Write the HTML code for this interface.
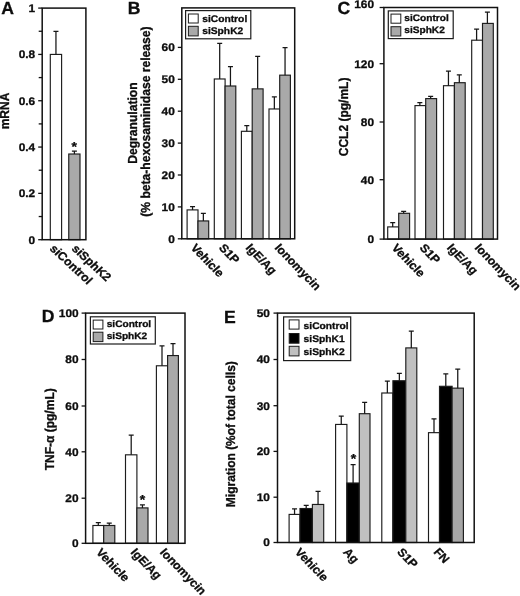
<!DOCTYPE html>
<html lang="en"><head><meta charset="utf-8"><title>Figure</title>
<style>html,body{margin:0;padding:0;background:#fff}svg{display:block;will-change:transform}text{text-rendering:geometricPrecision;font-family:"Liberation Sans",Arial,sans-serif;font-weight:bold;fill:#0d0d0d;stroke:#0d0d0d;stroke-width:.3px}</style>
</head><body>
<svg width="520" height="596" viewBox="0 0 520 596">
<rect width="520" height="596" fill="#fff"/>
<rect x="50.3" y="54.42" width="11.3" height="185.28" fill="#fff" stroke="#1c1c1c" stroke-width="1.15"/>
<path d="M55.95 54.42V31.26M53.45 31.26H58.45" fill="none" stroke="#161616" stroke-width="1.25"/>
<rect x="68.75" y="154.01" width="11.25" height="85.69" fill="#a9a9a9" stroke="#1c1c1c" stroke-width="1.15"/>
<path d="M74.4 154.01V151.23M71.9 151.23H76.9" fill="none" stroke="#161616" stroke-width="1.25"/>
<rect x="42.2" y="8.1" width="43.7" height="231.6" fill="none" stroke="#111" stroke-width="1.5"/>
<line x1="38.2" y1="239.7" x2="42.2" y2="239.7" stroke="#111" stroke-width="1.3"/>
<text transform="translate(35.2 243.6) scale(1.08 1)" font-size="11" text-anchor="end">0</text>
<line x1="38.7" y1="216.54" x2="42.2" y2="216.54" stroke="#111" stroke-width="1.3"/>
<line x1="38.2" y1="193.38" x2="42.2" y2="193.38" stroke="#111" stroke-width="1.3"/>
<text transform="translate(35.2 197.28) scale(1.08 1)" font-size="11" text-anchor="end">0.2</text>
<line x1="38.7" y1="170.22" x2="42.2" y2="170.22" stroke="#111" stroke-width="1.3"/>
<line x1="38.2" y1="147.06" x2="42.2" y2="147.06" stroke="#111" stroke-width="1.3"/>
<text transform="translate(35.2 150.96) scale(1.08 1)" font-size="11" text-anchor="end">0.4</text>
<line x1="38.7" y1="123.9" x2="42.2" y2="123.9" stroke="#111" stroke-width="1.3"/>
<line x1="38.2" y1="100.74" x2="42.2" y2="100.74" stroke="#111" stroke-width="1.3"/>
<text transform="translate(35.2 104.64) scale(1.08 1)" font-size="11" text-anchor="end">0.6</text>
<line x1="38.7" y1="77.58" x2="42.2" y2="77.58" stroke="#111" stroke-width="1.3"/>
<line x1="38.2" y1="54.42" x2="42.2" y2="54.42" stroke="#111" stroke-width="1.3"/>
<text transform="translate(35.2 58.32) scale(1.08 1)" font-size="11" text-anchor="end">0.8</text>
<line x1="38.7" y1="31.26" x2="42.2" y2="31.26" stroke="#111" stroke-width="1.3"/>
<line x1="38.2" y1="8.1" x2="42.2" y2="8.1" stroke="#111" stroke-width="1.3"/>
<text transform="translate(35.2 12) scale(1.08 1)" font-size="11" text-anchor="end">1</text>
<text transform="translate(74.2 150.6) scale(1.08 1)" font-size="13" text-anchor="middle">*</text>
<text transform="translate(49 249.3) scale(1.08 1) rotate(45)" font-size="11.5">siControl</text>
<text transform="translate(71 249.3) scale(1.08 1) rotate(45)" font-size="11.5">siSphK2</text>
<text transform="translate(9.4 111) scale(1.08 1) rotate(-90)" font-size="12" text-anchor="middle">mRNA</text>
<text transform="translate(1.3 14) scale(1.0 1)" font-size="17.6">A</text>
<rect x="187.1" y="209.9" width="10.9" height="28.9" fill="#fff" stroke="#1c1c1c" stroke-width="1.15"/>
<path d="M192.55 209.9V206.58M190.05 206.58H195.05" fill="none" stroke="#161616" stroke-width="1.25"/>
<rect x="198" y="220.94" width="10.7" height="17.86" fill="#a9a9a9" stroke="#1c1c1c" stroke-width="1.15"/>
<path d="M203.35 220.94V213.28M200.85 213.28H205.85" fill="none" stroke="#161616" stroke-width="1.25"/>
<rect x="214.3" y="78.98" width="10.8" height="159.82" fill="#fff" stroke="#1c1c1c" stroke-width="1.15"/>
<path d="M219.7 78.98V43.25M217.2 43.25H222.2" fill="none" stroke="#161616" stroke-width="1.25"/>
<rect x="225.1" y="86" width="10.7" height="152.8" fill="#a9a9a9" stroke="#1c1c1c" stroke-width="1.15"/>
<path d="M230.45 86V66.54M227.95 66.54H232.95" fill="none" stroke="#161616" stroke-width="1.25"/>
<rect x="241.4" y="131.3" width="10.8" height="107.5" fill="#fff" stroke="#1c1c1c" stroke-width="1.15"/>
<path d="M246.8 131.3V125.56M244.3 125.56H249.3" fill="none" stroke="#161616" stroke-width="1.25"/>
<rect x="252.2" y="88.87" width="10.9" height="149.93" fill="#a9a9a9" stroke="#1c1c1c" stroke-width="1.15"/>
<path d="M257.65 88.87V56.33M255.15 56.33H260.15" fill="none" stroke="#161616" stroke-width="1.25"/>
<rect x="269" y="108.97" width="10.7" height="129.83" fill="#fff" stroke="#1c1c1c" stroke-width="1.15"/>
<path d="M274.35 108.97V96.85M271.85 96.85H276.85" fill="none" stroke="#161616" stroke-width="1.25"/>
<rect x="279.7" y="75.15" width="10.7" height="163.65" fill="#a9a9a9" stroke="#1c1c1c" stroke-width="1.15"/>
<path d="M285.05 75.15V47.72M282.55 47.72H287.55" fill="none" stroke="#161616" stroke-width="1.25"/>
<rect x="181.8" y="7.9" width="112.9" height="230.9" fill="none" stroke="#111" stroke-width="1.5"/>
<line x1="177.8" y1="238.8" x2="181.8" y2="238.8" stroke="#111" stroke-width="1.3"/>
<text transform="translate(174.8 242.7) scale(1.08 1)" font-size="11" text-anchor="end">0</text>
<line x1="177.8" y1="206.9" x2="181.8" y2="206.9" stroke="#111" stroke-width="1.3"/>
<text transform="translate(174.8 210.8) scale(1.08 1)" font-size="11" text-anchor="end">10</text>
<line x1="177.8" y1="175" x2="181.8" y2="175" stroke="#111" stroke-width="1.3"/>
<text transform="translate(174.8 178.9) scale(1.08 1)" font-size="11" text-anchor="end">20</text>
<line x1="177.8" y1="143.1" x2="181.8" y2="143.1" stroke="#111" stroke-width="1.3"/>
<text transform="translate(174.8 147) scale(1.08 1)" font-size="11" text-anchor="end">30</text>
<line x1="177.8" y1="111.2" x2="181.8" y2="111.2" stroke="#111" stroke-width="1.3"/>
<text transform="translate(174.8 115.1) scale(1.08 1)" font-size="11" text-anchor="end">40</text>
<line x1="177.8" y1="79.3" x2="181.8" y2="79.3" stroke="#111" stroke-width="1.3"/>
<text transform="translate(174.8 83.2) scale(1.08 1)" font-size="11" text-anchor="end">50</text>
<line x1="177.8" y1="47.4" x2="181.8" y2="47.4" stroke="#111" stroke-width="1.3"/>
<text transform="translate(174.8 51.3) scale(1.08 1)" font-size="11" text-anchor="end">60</text>
<rect x="185.6" y="10.6" width="65.2" height="28.2" fill="#fff" stroke="#1c1c1c" stroke-width="1.2"/>
<rect x="188.4" y="14" width="9.8" height="9" fill="#fff" stroke="#1c1c1c" stroke-width="1"/>
<text transform="translate(202.2 21.7) scale(1.08 1)" font-size="9.5">siControl</text>
<rect x="188.4" y="26.3" width="9.8" height="9.6" fill="#a9a9a9" stroke="#1c1c1c" stroke-width="1"/>
<text transform="translate(202.2 34) scale(1.08 1)" font-size="9.5">siSphK2</text>
<text transform="translate(190 248.2) scale(1.08 1) rotate(48)" font-size="11.5">Vehicle</text>
<text transform="translate(218.3 248.2) scale(1.08 1) rotate(48)" font-size="11.5">S1P</text>
<text transform="translate(245 248.2) scale(1.08 1) rotate(48)" font-size="11.5">IgE/Ag</text>
<text transform="translate(274 248.2) scale(1.08 1) rotate(48)" font-size="11.5">Ionomycin</text>
<text transform="translate(137.3 123.1) scale(1.08 1) rotate(-90)" font-size="12.1" text-anchor="middle">Degranulation</text>
<text transform="translate(150 121.6) scale(1.08 1) rotate(-90)" font-size="12.1" text-anchor="middle">(% beta-hexosaminidase release)</text>
<text transform="translate(127.8 14) scale(1.0 1)" font-size="17.6">B</text>
<rect x="387.7" y="226.9" width="11" height="12.2" fill="#fff" stroke="#1c1c1c" stroke-width="1.15"/>
<path d="M392.7 226.9V222.7M390.2 222.7H395.2" fill="none" stroke="#161616" stroke-width="1.25"/>
<rect x="398.7" y="213.3" width="10.9" height="25.8" fill="#a9a9a9" stroke="#1c1c1c" stroke-width="1.15"/>
<path d="M403.65 213.3V211.4M401.15 211.4H406.15" fill="none" stroke="#161616" stroke-width="1.25"/>
<rect x="415" y="105.6" width="10.7" height="133.5" fill="#fff" stroke="#1c1c1c" stroke-width="1.15"/>
<path d="M419.85 105.6V102.6M417.35 102.6H422.35" fill="none" stroke="#161616" stroke-width="1.25"/>
<rect x="425.7" y="98.6" width="10.9" height="140.5" fill="#a9a9a9" stroke="#1c1c1c" stroke-width="1.15"/>
<path d="M430.65 98.6V96.3M428.15 96.3H433.15" fill="none" stroke="#161616" stroke-width="1.25"/>
<rect x="443.5" y="85.7" width="10.9" height="153.4" fill="#fff" stroke="#1c1c1c" stroke-width="1.15"/>
<path d="M448.45 85.7V71.2M445.95 71.2H450.95" fill="none" stroke="#161616" stroke-width="1.25"/>
<rect x="454.4" y="82.7" width="10.8" height="156.4" fill="#a9a9a9" stroke="#1c1c1c" stroke-width="1.15"/>
<path d="M459.3 82.7V74.9M456.8 74.9H461.8" fill="none" stroke="#161616" stroke-width="1.25"/>
<rect x="471.7" y="40.2" width="10.8" height="198.9" fill="#fff" stroke="#1c1c1c" stroke-width="1.15"/>
<path d="M476.6 40.2V29.2M474.1 29.2H479.1" fill="none" stroke="#161616" stroke-width="1.25"/>
<rect x="482.5" y="23.4" width="10.8" height="215.7" fill="#a9a9a9" stroke="#1c1c1c" stroke-width="1.15"/>
<path d="M487.4 23.4V12.1M484.9 12.1H489.9" fill="none" stroke="#161616" stroke-width="1.25"/>
<rect x="383.9" y="7.5" width="113.6" height="231.6" fill="none" stroke="#111" stroke-width="1.5"/>
<line x1="379.6" y1="239.1" x2="383.9" y2="239.1" stroke="#111" stroke-width="1.3"/>
<text transform="translate(374 243) scale(1.08 1)" font-size="11" text-anchor="end">0</text>
<line x1="379.6" y1="179.7" x2="383.9" y2="179.7" stroke="#111" stroke-width="1.3"/>
<text transform="translate(374 183.6) scale(1.08 1)" font-size="11" text-anchor="end">40</text>
<line x1="379.6" y1="122" x2="383.9" y2="122" stroke="#111" stroke-width="1.3"/>
<text transform="translate(374 125.9) scale(1.08 1)" font-size="11" text-anchor="end">80</text>
<line x1="379.6" y1="63.7" x2="383.9" y2="63.7" stroke="#111" stroke-width="1.3"/>
<text transform="translate(374 67.6) scale(1.08 1)" font-size="11" text-anchor="end">120</text>
<line x1="379.6" y1="7.5" x2="383.9" y2="7.5" stroke="#111" stroke-width="1.3"/>
<text transform="translate(374 8.2) scale(1.08 1)" font-size="11" text-anchor="end">160</text>
<rect x="388.3" y="10.9" width="64.9" height="27.7" fill="#fff" stroke="#1c1c1c" stroke-width="1.2"/>
<rect x="391" y="14.1" width="9.8" height="9.1" fill="#fff" stroke="#1c1c1c" stroke-width="1"/>
<text transform="translate(404.3 20.9) scale(1.08 1)" font-size="9.4">siControl</text>
<rect x="391" y="26.7" width="9.8" height="9.3" fill="#a9a9a9" stroke="#1c1c1c" stroke-width="1"/>
<text transform="translate(404.3 32.9) scale(1.08 1)" font-size="9.4">siSphK2</text>
<text transform="translate(391 248.2) scale(1.08 1) rotate(48)" font-size="11.5">Vehicle</text>
<text transform="translate(419 248.2) scale(1.08 1) rotate(48)" font-size="11.5">S1P</text>
<text transform="translate(446.2 248.2) scale(1.08 1) rotate(48)" font-size="11.5">IgE/Ag</text>
<text transform="translate(474 248.2) scale(1.08 1) rotate(48)" font-size="11.5">Ionomycin</text>
<text transform="translate(348 116.9) scale(1.08 1) rotate(-90)" font-size="12" text-anchor="middle">CCL2 (pg/mL)</text>
<text transform="translate(337.6 14) scale(1.0 1)" font-size="17.6">C</text>
<rect x="92.9" y="525.49" width="10.8" height="17.81" fill="#fff" stroke="#1c1c1c" stroke-width="1.15"/>
<path d="M98.3 525.49V522.55M95.8 522.55H100.8" fill="none" stroke="#161616" stroke-width="1.25"/>
<rect x="103.7" y="525.49" width="11.1" height="17.81" fill="#a9a9a9" stroke="#1c1c1c" stroke-width="1.15"/>
<path d="M109.25 525.49V523.23M106.75 523.23H111.75" fill="none" stroke="#161616" stroke-width="1.25"/>
<rect x="125.5" y="454.82" width="11.4" height="88.48" fill="#fff" stroke="#1c1c1c" stroke-width="1.15"/>
<path d="M131.2 454.82V435.08M128.7 435.08H133.7" fill="none" stroke="#161616" stroke-width="1.25"/>
<rect x="136.9" y="507.9" width="11.1" height="35.4" fill="#a9a9a9" stroke="#1c1c1c" stroke-width="1.15"/>
<path d="M142.45 507.9V504.96M139.95 504.96H144.95" fill="none" stroke="#161616" stroke-width="1.25"/>
<rect x="156.4" y="365.78" width="11.2" height="177.52" fill="#fff" stroke="#1c1c1c" stroke-width="1.15"/>
<path d="M162 365.78V345.81M159.5 345.81H164.5" fill="none" stroke="#161616" stroke-width="1.25"/>
<rect x="167.6" y="355.56" width="10.8" height="187.74" fill="#a9a9a9" stroke="#1c1c1c" stroke-width="1.15"/>
<path d="M173 355.56V343.72M170.5 343.72H175.5" fill="none" stroke="#161616" stroke-width="1.25"/>
<rect x="85.6" y="313.1" width="99.4" height="230.2" fill="none" stroke="#111" stroke-width="1.5"/>
<line x1="81.6" y1="543.3" x2="85.6" y2="543.3" stroke="#111" stroke-width="1.3"/>
<text transform="translate(78.6 547.2) scale(1.08 1)" font-size="11" text-anchor="end">0</text>
<line x1="81.6" y1="498.2" x2="85.6" y2="498.2" stroke="#111" stroke-width="1.3"/>
<text transform="translate(78.6 502.1) scale(1.08 1)" font-size="11" text-anchor="end">20</text>
<line x1="81.6" y1="451.8" x2="85.6" y2="451.8" stroke="#111" stroke-width="1.3"/>
<text transform="translate(78.6 455.7) scale(1.08 1)" font-size="11" text-anchor="end">40</text>
<line x1="81.6" y1="406" x2="85.6" y2="406" stroke="#111" stroke-width="1.3"/>
<text transform="translate(78.6 409.9) scale(1.08 1)" font-size="11" text-anchor="end">60</text>
<line x1="81.6" y1="359.5" x2="85.6" y2="359.5" stroke="#111" stroke-width="1.3"/>
<text transform="translate(78.6 363.4) scale(1.08 1)" font-size="11" text-anchor="end">80</text>
<line x1="81.6" y1="313.1" x2="85.6" y2="313.1" stroke="#111" stroke-width="1.3"/>
<text transform="translate(78.6 317) scale(1.08 1)" font-size="11" text-anchor="end">100</text>
<rect x="90.4" y="316.8" width="64.9" height="27.2" fill="#fff" stroke="#1c1c1c" stroke-width="1.2"/>
<rect x="93.2" y="320.1" width="9.7" height="8.9" fill="#fff" stroke="#1c1c1c" stroke-width="1"/>
<text transform="translate(106.7 327.1) scale(1.08 1)" font-size="9.4">siControl</text>
<rect x="93.2" y="332.2" width="9.7" height="9.4" fill="#a9a9a9" stroke="#1c1c1c" stroke-width="1"/>
<text transform="translate(106.7 338.9) scale(1.08 1)" font-size="9.4">siSphK2</text>
<text transform="translate(142.4 503.5) scale(1.08 1)" font-size="13" text-anchor="middle">*</text>
<text transform="translate(95.5 552.8) scale(1.08 1) rotate(48)" font-size="11.5">Vehicle</text>
<text transform="translate(130 552.8) scale(1.08 1) rotate(48)" font-size="11.5">IgE/Ag</text>
<text transform="translate(159.3 552.8) scale(1.08 1) rotate(48)" font-size="11.5">Ionomycin</text>
<text transform="translate(54 429.3) scale(1.08 1) rotate(-90)" font-size="12" text-anchor="middle">TNF-α (pg/mL)</text>
<text transform="translate(41.8 321.5) scale(1.0 1)" font-size="17.6">D</text>
<rect x="289.1" y="514.41" width="10.9" height="28.09" fill="#fff" stroke="#1c1c1c" stroke-width="1.15"/>
<path d="M294.55 514.41V508.98M292.05 508.98H297.05" fill="none" stroke="#161616" stroke-width="1.25"/>
<rect x="300" y="508.52" width="12.4" height="33.98" fill="#000" stroke="#1c1c1c" stroke-width="1.15"/>
<path d="M306.2 508.52V505.35M303.7 505.35H308.7" fill="none" stroke="#161616" stroke-width="1.25"/>
<rect x="312.4" y="504.45" width="11.3" height="38.05" fill="#c0c0c0" stroke="#1c1c1c" stroke-width="1.15"/>
<path d="M318.05 504.45V491.25M315.55 491.25H320.55" fill="none" stroke="#161616" stroke-width="1.25"/>
<rect x="335.6" y="424.44" width="11.3" height="118.06" fill="#fff" stroke="#1c1c1c" stroke-width="1.15"/>
<path d="M341.25 424.44V416.21M338.75 416.21H343.75" fill="none" stroke="#161616" stroke-width="1.25"/>
<rect x="346.9" y="483" width="12.4" height="59.5" fill="#000" stroke="#1c1c1c" stroke-width="1.15"/>
<path d="M353.1 483V464.68M350.6 464.68H355.6" fill="none" stroke="#161616" stroke-width="1.25"/>
<rect x="359.3" y="413.7" width="10.7" height="128.8" fill="#c0c0c0" stroke="#1c1c1c" stroke-width="1.15"/>
<path d="M364.65 413.7V402.47M362.15 402.47H367.15" fill="none" stroke="#161616" stroke-width="1.25"/>
<rect x="381.8" y="393" width="11.1" height="149.5" fill="#fff" stroke="#1c1c1c" stroke-width="1.15"/>
<path d="M387.35 393V381.21M384.85 381.21H389.85" fill="none" stroke="#161616" stroke-width="1.25"/>
<rect x="392.9" y="380.75" width="12.9" height="161.75" fill="#000" stroke="#1c1c1c" stroke-width="1.15"/>
<path d="M399.35 380.75V373.36M396.85 373.36H401.85" fill="none" stroke="#161616" stroke-width="1.25"/>
<rect x="405.8" y="347.9" width="11" height="194.6" fill="#c0c0c0" stroke="#1c1c1c" stroke-width="1.15"/>
<path d="M411.3 347.9V331.2M408.8 331.2H413.8" fill="none" stroke="#161616" stroke-width="1.25"/>
<rect x="428.5" y="432.66" width="11" height="109.84" fill="#fff" stroke="#1c1c1c" stroke-width="1.15"/>
<path d="M434 432.66V418.95M431.5 418.95H436.5" fill="none" stroke="#161616" stroke-width="1.25"/>
<rect x="439.5" y="386.3" width="12.6" height="156.2" fill="#000" stroke="#1c1c1c" stroke-width="1.15"/>
<path d="M445.8 386.3V373.82M443.3 373.82H448.3" fill="none" stroke="#161616" stroke-width="1.25"/>
<rect x="452.1" y="388.14" width="11.3" height="154.36" fill="#a6a6a6" stroke="#1c1c1c" stroke-width="1.15"/>
<path d="M457.75 388.14V369.2M455.25 369.2H460.25" fill="none" stroke="#161616" stroke-width="1.25"/>
<rect x="277.5" y="313.1" width="196.7" height="229.4" fill="none" stroke="#111" stroke-width="1.5"/>
<line x1="273.5" y1="542.5" x2="277.5" y2="542.5" stroke="#111" stroke-width="1.3"/>
<text transform="translate(269.9 546.4) scale(1.08 1)" font-size="11" text-anchor="end">0</text>
<line x1="273.5" y1="497.2" x2="277.5" y2="497.2" stroke="#111" stroke-width="1.3"/>
<text transform="translate(269.9 501.1) scale(1.08 1)" font-size="11" text-anchor="end">10</text>
<line x1="273.5" y1="451.4" x2="277.5" y2="451.4" stroke="#111" stroke-width="1.3"/>
<text transform="translate(269.9 455.3) scale(1.08 1)" font-size="11" text-anchor="end">20</text>
<line x1="273.5" y1="405.7" x2="277.5" y2="405.7" stroke="#111" stroke-width="1.3"/>
<text transform="translate(269.9 409.6) scale(1.08 1)" font-size="11" text-anchor="end">30</text>
<line x1="273.5" y1="359.5" x2="277.5" y2="359.5" stroke="#111" stroke-width="1.3"/>
<text transform="translate(269.9 363.4) scale(1.08 1)" font-size="11" text-anchor="end">40</text>
<line x1="273.5" y1="313.1" x2="277.5" y2="313.1" stroke="#111" stroke-width="1.3"/>
<text transform="translate(269.9 317) scale(1.08 1)" font-size="11" text-anchor="end">50</text>
<rect x="283.6" y="316.9" width="67.1" height="43.7" fill="#fff" stroke="#1c1c1c" stroke-width="1.2"/>
<rect x="289.2" y="319.9" width="9.8" height="9.2" fill="#fff" stroke="#1c1c1c" stroke-width="1"/>
<text transform="translate(303.6 328.7) scale(1.08 1)" font-size="9.5">siControl</text>
<rect x="289.2" y="333.5" width="9.8" height="9.7" fill="#000" stroke="#1c1c1c" stroke-width="1"/>
<text transform="translate(303.6 341.9) scale(1.08 1)" font-size="9.5">siSphK1</text>
<rect x="289.2" y="346.3" width="9.8" height="9.6" fill="#c0c0c0" stroke="#1c1c1c" stroke-width="1"/>
<text transform="translate(303.6 354.7) scale(1.08 1)" font-size="9.5">siSphK2</text>
<text transform="translate(353.4 463) scale(1.08 1)" font-size="13" text-anchor="middle">*</text>
<text transform="translate(294.3 552.5) scale(1.08 1) rotate(48)" font-size="11.5">Vehicle</text>
<text transform="translate(342.6 552.5) scale(1.08 1) rotate(48)" font-size="11.5">Ag</text>
<text transform="translate(396.5 552.5) scale(1.08 1) rotate(48)" font-size="11.5">S1P</text>
<text transform="translate(433 552.5) scale(1.08 1) rotate(48)" font-size="11.5">FN</text>
<text transform="translate(235.3 434.2) scale(1.08 1) rotate(-90)" font-size="12" text-anchor="middle">Migration (%of total cells)</text>
<text transform="translate(224 322.5) scale(1.0 1)" font-size="17.6">E</text>
</svg></body></html>
